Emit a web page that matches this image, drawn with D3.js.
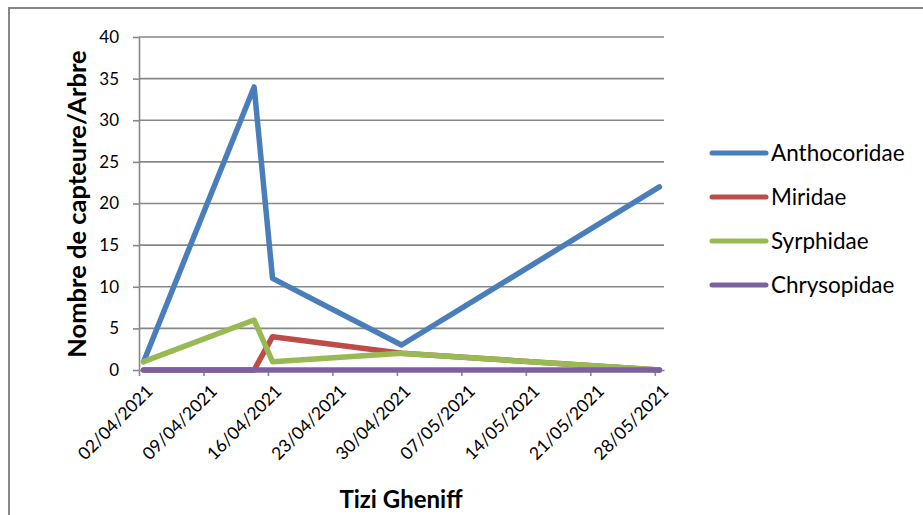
<!DOCTYPE html>
<html>
<head>
<meta charset="utf-8">
<script src="https://cdn.jsdelivr.net/npm/d3@7"></script>
<style>
  body { margin: 0; background: #fff; }
  svg { display: block; font-family: Lato, "Open Sans", sans-serif; }
</style>
</head>
<body>
<div id="chart"></div>
<script>
const width = 923;
const height = 515;
const plot = { left: 139, right: 664, top: 37, bottom: 370 };

// sampling dates and counts per tree
const dates = ["02/04/2021", "14/04/2021", "16/04/2021", "30/04/2021", "28/05/2021"];
const anthocoridae = [1, 34, 11, 3, 22];
const miridae = [0, 0, 4, 2, 0];
const syrphidae = [1, 6, 1, 2, 0];
const chrysopidae = [0, 0, 0, 0, 0];

const seriesNames = ["Anthocoridae", "Miridae", "Syrphidae", "Chrysopidae"];
const seriesValues = [anthocoridae, miridae, syrphidae, chrysopidae];
const colors = ["#4A7EBB", "#BE4B48", "#98B954", "#7D60A0"];

const tickLabels = ["02/04/2021", "09/04/2021", "16/04/2021", "23/04/2021", "30/04/2021",
    "07/05/2021", "14/05/2021", "21/05/2021", "28/05/2021"];
const yTicks = [0, 5, 10, 15, 20, 25, 30, 35, 40];

const parseDate = d3.utcParse("%d/%m/%Y");
const formatDate = d3.utcFormat("%d/%m/%Y");

const svg = d3.select("#chart")
    .append("svg")
    .attr("width", width)
    .attr("height", height);

// outer chart frame
svg.append("rect")
    .attr("x", 9)
    .attr("y", 8)
    .attr("width", 930)
    .attr("height", 530)
    .attr("fill", "none")
    .attr("stroke", "#878787")
    .attr("stroke-width", 2);

const tickDates = tickLabels.map(parseDate);
const first = tickDates[0];
const last = d3.utcDay.offset(tickDates[tickDates.length - 1], 1);

// date axis: every day is a slot, points sit in the middle of their day
const xScale = d3.scaleUtc()
    .domain([first, last])
    .range([plot.left, plot.right]);

const yScale = d3.scaleLinear()
    .domain([0, 40])
    .range([plot.bottom, plot.top]);

const xOf = s => xScale(d3.utcHour.offset(parseDate(s), 12));

// gridlines
svg.append("g")
    .selectAll("line")
    .data(yTicks.filter(d => d > 0))
    .enter()
    .append("line")
    .attr("x1", plot.left)
    .attr("x2", plot.right)
    .attr("y1", d => yScale(d))
    .attr("y2", d => yScale(d))
    .attr("stroke", "#878787")
    .attr("stroke-width", 1.6);

const yAxis = d3.axisLeft(yScale)
    .tickValues(yTicks)
    .tickSize(6)
    .tickSizeOuter(0)
    .tickPadding(14);

const yAxisGroup = svg.append("g")
    .attr("transform", `translate(${plot.left}, 0)`)
    .call(yAxis);

yAxisGroup.selectAll("path, line")
    .attr("stroke", "#878787")
    .attr("stroke-width", 1.6);
yAxisGroup.selectAll("text")
    .attr("font-family", "Lato, sans-serif")
    .attr("font-size", 17)
    .attr("fill", "#000");

const xAxis = d3.axisBottom(xScale)
    .tickValues(tickDates)
    .tickSize(6)
    .tickSizeOuter(0)
    .tickFormat(formatDate);

const xAxisGroup = svg.append("g")
    .attr("transform", `translate(0, ${plot.bottom})`)
    .call(xAxis);

xAxisGroup.selectAll("path, line")
    .attr("stroke", "#878787")
    .attr("stroke-width", 1.6);
xAxisGroup.selectAll("text")
    .attr("font-family", "Lato, sans-serif")
    .attr("font-size", 17.5)
    .attr("fill", "#000")
    .attr("text-anchor", "end")
    .attr("x", 0)
    .attr("y", 0)
    .attr("dy", "0.35em")
    .attr("transform", "translate(10, 18) rotate(-45)");

// series lines
const line = d3.line()
    .x((d, i) => xOf(dates[i]))
    .y(d => yScale(d));

svg.append("g")
    .selectAll("path")
    .data(seriesValues)
    .enter()
    .append("path")
    .attr("d", line)
    .attr("fill", "none")
    .attr("stroke", (d, i) => colors[i])
    .attr("stroke-width", 5.5)
    .attr("stroke-linejoin", "round")
    .attr("stroke-linecap", "round");

// legend
const legend = svg.selectAll(".legend")
    .data(seriesNames)
    .enter()
    .append("g")
    .attr("class", "legend")
    .attr("transform", (d, i) => `translate(712, ${153 + i * 44})`);

legend.append("line")
    .attr("x1", 0)
    .attr("x2", 54)
    .attr("stroke", (d, i) => colors[i])
    .attr("stroke-width", 5)
    .attr("stroke-linecap", "round");

legend.append("text")
    .attr("x", 59)
    .attr("dy", "0.35em")
    .attr("font-size", 22.5)
    .attr("fill", "#000")
    .text(d => d);

// axis titles
svg.append("text")
    .attr("transform", "translate(86, 204) rotate(-90)")
    .attr("text-anchor", "middle")
    .attr("font-size", 25.5)
    .attr("font-weight", "bold")
    .attr("fill", "#000")
    .text("Nombre de capteure/Arbre");

svg.append("text")
    .attr("x", 401)
    .attr("y", 508)
    .attr("text-anchor", "middle")
    .attr("font-size", 24)
    .attr("font-weight", "bold")
    .attr("fill", "#000")
    .text("Tizi Gheniff");
</script>
</body>
</html>
